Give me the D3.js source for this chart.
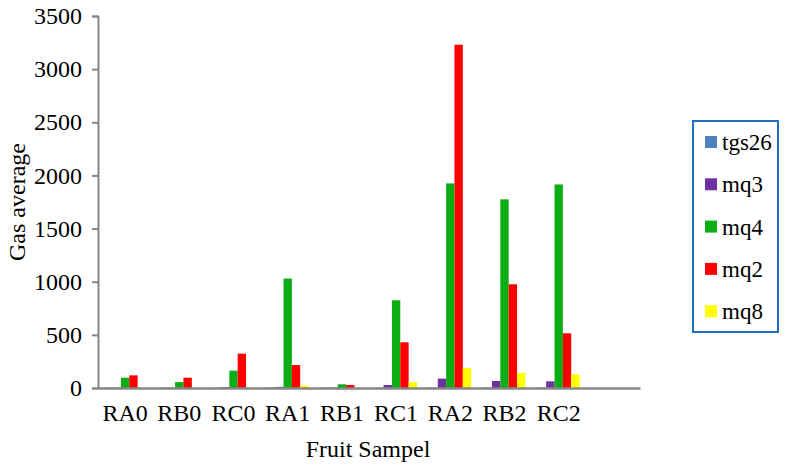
<!DOCTYPE html>
<html>
<head>
<meta charset="utf-8">
<script src="https://cdn.jsdelivr.net/npm/d3@7"></script>
<style>
  html, body { margin: 0; padding: 0; background: #fff; }
  svg { display: block; font-family: "Liberation Serif", "Times New Roman", serif; }
</style>
</head>
<body>
<svg id="chart" width="787" height="464"></svg>
<script>
// Gas sensor averages per fruit sample
const categories = ["RA0", "RB0", "RC0", "RA1", "RB1", "RC1", "RA2", "RB2", "RC2"];
const seriesNames = ["tgs26", "mq3", "mq4", "mq2", "mq8"];
const tgs26 = [2, 2, 3, 4, 2, 3, 5, 4, 4];
const mq3   = [3, 3, 8, 10, 5, 28, 88, 66, 63];
const mq4   = [97, 56, 163, 1030, 35, 825, 1925, 1775, 1915];
const mq2   = [119, 97, 323, 216, 28, 430, 3230, 976, 515];
const mq8   = [3, 3, 5, 22, 3, 54, 188, 141, 129];
const yTicks = [0, 500, 1000, 1500, 2000, 2500, 3000, 3500];
const colors = ["#4f81bd", "#7030a0", "#0aad14", "#ff0000", "#ffff00"];

const seriesValues = [tgs26, mq3, mq4, mq2, mq8];
const FONT = "Liberation Serif, Times New Roman, serif";

const svg = d3.select("#chart");
const plot = { left: 98, right: 640, top: 16, bottom: 388 };

// the category axis carries one trailing empty slot
const x = d3.scaleBand()
  .domain([...categories, " "])
  .range([plot.left, plot.right])
  .paddingInner(0.23)
  .paddingOuter(0.115);

const xs = d3.scaleBand()
  .domain(seriesNames)
  .range([0, x.bandwidth()]);

const y = d3.scaleLinear()
  .domain([0, 3500])
  .range([plot.bottom, plot.top]);

const axisColor = "#868686";

// bars
const groups = svg.append("g").selectAll("g")
  .data(categories)
  .join("g")
  .attr("transform", d => `translate(${x(d)},0)`);

groups.selectAll("rect")
  .data((c, i) => seriesNames.map((s, k) => ({ s, k, v: seriesValues[k][i] })))
  .join("rect")
  .attr("x", d => xs(d.s))
  .attr("width", xs.bandwidth())
  .attr("y", d => y(d.v))
  .attr("height", d => y(0) - y(d.v))
  .attr("fill", d => colors[d.k]);

// y axis
const yAxis = svg.append("g")
  .attr("transform", `translate(${plot.left},0)`)
  .call(d3.axisLeft(y).tickValues(yTicks).tickSize(6).tickPadding(10).tickFormat(d3.format("d")));
yAxis.select(".domain").attr("stroke", axisColor).attr("stroke-width", 2);
yAxis.selectAll(".tick line").attr("stroke", axisColor).attr("stroke-width", 2);
yAxis.selectAll(".tick text")
  .attr("fill", "#000")
  .style("font-size", "24px")
  .style("font-family", FONT);

// x axis
const xAxis = svg.append("g")
  .attr("transform", `translate(0,${plot.bottom})`)
  .call(d3.axisBottom(x).tickSize(0).tickPadding(16).tickSizeOuter(0));
xAxis.select(".domain").attr("stroke", axisColor).attr("stroke-width", 2.5);
xAxis.selectAll(".tick text")
  .attr("fill", "#000")
  .style("font-size", "24px")
  .style("font-family", FONT);

// axis titles
svg.append("text")
  .attr("transform", "translate(25,202) rotate(-90)")
  .attr("text-anchor", "middle")
  .style("font-size", "24px")
  .text("Gas average");

svg.append("text")
  .attr("x", 368)
  .attr("y", 457)
  .attr("text-anchor", "middle")
  .style("font-size", "24px")
  .text("Fruit Sampel");

// legend
const legend = svg.append("g");
legend.append("rect")
  .attr("x", 693).attr("y", 121)
  .attr("width", 85).attr("height", 211)
  .attr("fill", "#fff")
  .attr("stroke", "#1f6fc0")
  .attr("stroke-width", 2);

const items = legend.selectAll("g.item")
  .data(seriesNames)
  .join("g")
  .attr("class", "item")
  .attr("transform", (d, i) => `translate(705,${142 + i * 42.3})`);

items.append("rect")
  .attr("x", 0).attr("y", -6)
  .attr("width", 12).attr("height", 12)
  .attr("fill", (d, i) => colors[i]);

items.append("text")
  .attr("x", 17)
  .attr("y", 0)
  .attr("dy", "0.35em")
  .style("font-size", "23px")
  .text(d => d);
</script>
</body>
</html>
